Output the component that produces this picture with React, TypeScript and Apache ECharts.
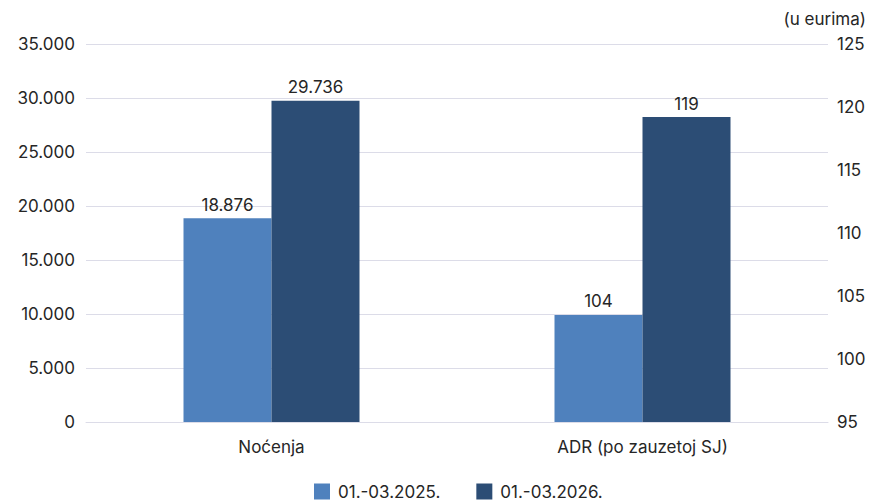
import React, { useEffect, useRef } from "react";
import * as echarts from "echarts";

const categories = ["Noćenja", "ADR (po zauzetoj SJ)"];
const seriesNames = ["01.-03.2025.", "01.-03.2026."];
const nights2025 = 18876;
const nights2026 = 29736;
const adr2025 = 103.5;
const adr2026 = 119.2;
const leftTicks = { min: 0, max: 35000, interval: 5000 };
const rightTicks = { min: 95, max: 125, interval: 5 };
const unitLabel = "(u eurima)";

const colors = ["#4f81bd", "#2c4d75"];
const FONT = "Inter, 'Noto Sans', sans-serif";
const TEXT = "#262626";
const GRID = "#dcdce8";

const fmtThousands = (v: number) =>
  Math.round(v)
    .toString()
    .replace(/\B(?=(\d{3})+(?!\d))/g, ".");

export default function App() {
  const ref = useRef<HTMLDivElement>(null);
  useEffect(() => {
    if (!ref.current) return;
    const chart = echarts.init(ref.current, undefined, { renderer: "svg" });
    const labelBase = {
      show: true,
      position: "top" as const,
      distance: 5,
      fontFamily: FONT,
      fontSize: 17,
      color: TEXT,
    };
    const barBase = {
      type: "bar" as const,
      barWidth: 88,
      barGap: "0%",
    };
    chart.setOption({
      animation: false,
      textStyle: { fontFamily: FONT },
      grid: { left: 86, right: 45, top: 44, bottom: 78, containLabel: false },
      legend: {
        data: seriesNames,
        left: 309,
        top: 478,
        itemWidth: 16,
        itemHeight: 16,
        itemGap: 36,
        icon: "rect",
        textStyle: { fontFamily: FONT, fontSize: 17, color: TEXT, padding: [0, 0, 0, 3] },
      },
      graphic: [
        {
          type: "text",
          right: 7,
          top: 10,
          style: { text: unitLabel, fontFamily: FONT, fontSize: 17, fill: TEXT },
        },
      ],
      xAxis: [
        {
          type: "category",
          data: categories,
          axisTick: { show: false },
          axisLine: { show: true, lineStyle: { color: GRID, width: 1 } },
          axisLabel: { fontFamily: FONT, fontSize: 17, color: TEXT, margin: 16 },
        },
        { type: "category", data: categories, show: false },
      ],
      yAxis: [
        {
          type: "value",
          ...leftTicks,
          axisLine: { show: false },
          axisTick: { show: false },
          splitLine: { lineStyle: { color: GRID, width: 1 } },
          axisLabel: {
            fontFamily: FONT,
            fontSize: 17,
            color: TEXT,
            margin: 11,
            formatter: (v: number) => fmtThousands(v),
          },
        },
        {
          type: "value",
          position: "right",
          ...rightTicks,
          axisLine: { show: false },
          axisTick: { show: false },
          splitLine: { show: false },
          axisLabel: {
            fontFamily: FONT,
            fontSize: 17,
            color: TEXT,
            margin: 9,
            padding: [12, 0, 0, 0],
          },
        },
      ],
      series: [
        {
          ...barBase,
          name: seriesNames[0],
          xAxisIndex: 0,
          yAxisIndex: 0,
          itemStyle: { color: colors[0] },
          data: [nights2025, "-"],
          label: { ...labelBase, formatter: (p: any) => fmtThousands(p.value) },
        },
        {
          ...barBase,
          name: seriesNames[1],
          xAxisIndex: 0,
          yAxisIndex: 0,
          itemStyle: { color: colors[1] },
          data: [nights2026, "-"],
          label: { ...labelBase, formatter: (p: any) => fmtThousands(p.value) },
        },
        {
          ...barBase,
          name: seriesNames[0],
          xAxisIndex: 1,
          yAxisIndex: 1,
          itemStyle: { color: colors[0] },
          data: ["-", adr2025],
          label: { ...labelBase, formatter: (p: any) => String(Math.round(p.value)) },
        },
        {
          ...barBase,
          name: seriesNames[1],
          xAxisIndex: 1,
          yAxisIndex: 1,
          itemStyle: { color: colors[1] },
          data: ["-", adr2026],
          label: { ...labelBase, formatter: (p: any) => String(Math.round(p.value)) },
        },
      ],
    });
    return () => chart.dispose();
  }, []);
  return <div ref={ref} style={{ width: 873, height: 500, position: "absolute", left: 0, top: 0 }} />;
}
